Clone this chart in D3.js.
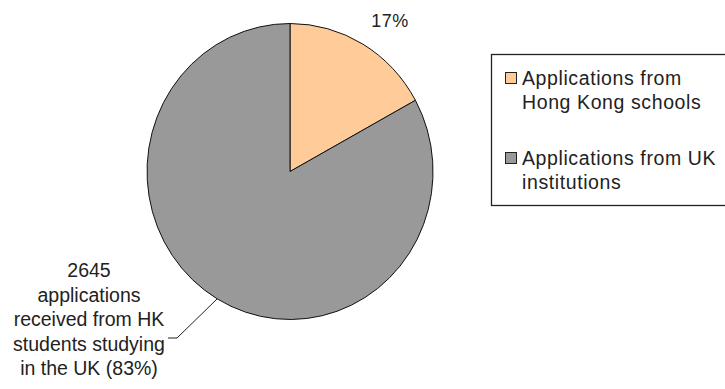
<!DOCTYPE html>
<html>
<head>
<meta charset="utf-8">
<script src="https://cdn.jsdelivr.net/npm/d3@7"></script>
<style>
  html, body { margin: 0; padding: 0; background: #fff; }
  svg { display: block; }
  text { font-family: "Liberation Sans", Arial, sans-serif; fill: #222; }
</style>
</head>
<body>
<svg id="chart" width="725" height="389"></svg>
<script>
// Applications by source
const categories = ["Applications from Hong Kong schools", "Applications from UK institutions"];
const values = [542, 2645];
const colors = ["#FFCC99", "#999999"];
const legendLines = [["Applications from", "Hong Kong schools"], ["Applications from UK", "institutions"]];
const sliceLabels = [["17%"], ["2645", "applications", "received from HK", "students studying", "in the UK (83%)"]];

const svg = d3.select("#chart");
const W = 725, H = 389;
svg.append("rect").attr("width", W).attr("height", H).attr("fill", "#fff");

// Pie geometry (slightly taller than wide)
const cx = 290, cy = 171.5, rx = 143, ry = 148;

const pie = d3.pie().sort(null).value(d => d).startAngle(0).endAngle(2 * Math.PI);
const arcs = pie(values);
const arc = d3.arc().innerRadius(0).outerRadius(1);

const pieG = svg.append("g")
  .attr("transform", `translate(${cx},${cy}) scale(${rx},${ry})`);

pieG.selectAll("path")
  .data(arcs)
  .join("path")
  .attr("d", arc)
  .attr("fill", (d, i) => colors[i])
  .attr("stroke", "#111")
  .attr("stroke-width", 1)
  .attr("vector-effect", "non-scaling-stroke");

// point on the ellipse at a given pie angle (0 = top, clockwise)
const edge = (a, k = 1) => [cx + rx * k * Math.sin(a), cy - ry * k * Math.cos(a)];

const fs = 19.5;

// 17% label above the small slice
svg.append("text")
  .attr("x", 390).attr("y", 27)
  .attr("text-anchor", "middle")
  .attr("font-size", 18)
  .attr("letter-spacing", 0.5)
  .text(sliceLabels[0][0]);

// Large slice label with leader line
const uk = arcs[1];
const mid = (uk.startAngle + uk.endAngle) / 2;
const [ex, ey] = edge(mid);
svg.append("polyline")
  .attr("points", [[168, 338], [177, 338], [ex, ey]].map(p => p.join(",")).join(" "))
  .attr("fill", "none")
  .attr("stroke", "#222")
  .attr("stroke-width", 1);

const lbl = svg.append("text")
  .attr("text-anchor", "middle")
  .attr("font-size", fs);
sliceLabels[1].forEach((t, i) => {
  lbl.append("tspan").attr("x", 89).attr("y", 277 + i * 24.5).text(t);
});

// Legend
svg.append("rect")
  .attr("x", 491.5).attr("y", 54.5)
  .attr("width", 260).attr("height", 151)
  .attr("fill", "#fff")
  .attr("stroke", "#222")
  .attr("stroke-width", 1.3);

const legendTop = [85, 165];
categories.forEach((c, i) => {
  const y0 = legendTop[i];
  svg.append("rect")
    .attr("x", 505.5).attr("y", y0 - 12.5)
    .attr("width", 11).attr("height", 11)
    .attr("fill", colors[i])
    .attr("stroke", "#222")
    .attr("stroke-width", 1);
  const t = svg.append("text").attr("font-size", fs).attr("letter-spacing", 0.6);
  legendLines[i].forEach((line, j) => {
    t.append("tspan").attr("x", 522).attr("y", y0 + j * 24).text(line);
  });
});
</script>
</body>
</html>
